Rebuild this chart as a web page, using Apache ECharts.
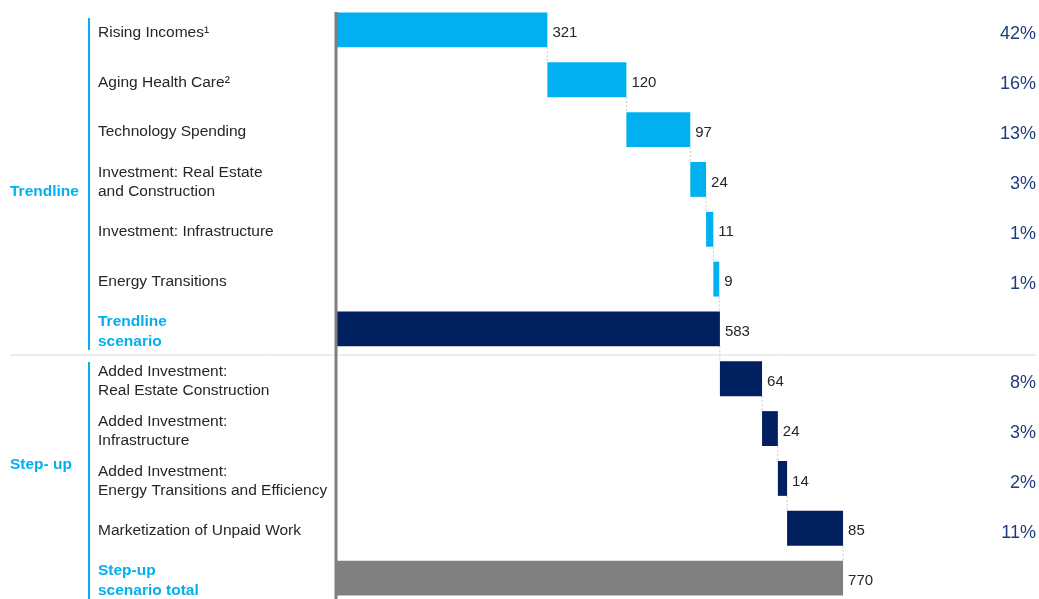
<!DOCTYPE html>
<html>
<head>
<meta charset="utf-8">
<script src="https://cdn.jsdelivr.net/npm/echarts@6/dist/echarts.min.js"></script>
<style>
html,body{margin:0;padding:0;background:#fff;overflow:hidden;width:1039px;height:599px;}
#chart{width:1039px;height:603px;}
</style>
</head>
<body>
<div id="chart"></div>
<script>
const categories = [
  'Rising Incomes¹',
  'Aging Health Care²',
  'Technology Spending',
  'Investment: Real Estate\nand Construction',
  'Investment: Infrastructure',
  'Energy Transitions',
  'Trendline\nscenario',
  'Added Investment:\nReal Estate Construction',
  'Added Investment:\nInfrastructure',
  'Added Investment:\nEnergy Transitions and Efficiency',
  'Marketization of Unpaid Work',
  'Step-up\nscenario total'
];
const values = [321, 120, 97, 24, 11, 9, 583, 64, 24, 14, 85, 770];
const kinds = ['trend','trend','trend','trend','trend','trend','total','step','step','step','step','grand'];
const percents = ['42%','16%','13%','3%','1%','1%','','8%','3%','2%','11%',''];
const groupLabels = ['Trendline', 'Step- up'];

const colors = { trend: '#00b0f0', total: '#002060', step: '#002060', grand: '#808080' };

// waterfall bases
const bases = [];
let running = 0;
values.forEach((v, i) => {
  if (kinds[i] === 'total' || kinds[i] === 'grand') {
    bases.push(0);
    running = v;
  } else {
    bases.push(running);
    running += v;
  }
});
// connector lines: end of each bar (except last)
const connectors = [];
for (let i = 0; i < values.length - 1; i++) {
  connectors.push([bases[i] + values[i], i]);
}

const FONT = 'Liberation Sans, Arial, sans-serif';
const chart = echarts.init(document.getElementById('chart'));
const option = {
  animation: false,
  grid: { left: 336, right: 3, top: 5, bottom: 0 },
  xAxis: {
    type: 'value', min: 0, max: 1063,
    show: false
  },
  yAxis: [{
    type: 'category',
    inverse: true,
    data: categories,
    axisLine: { show: false },
    axisTick: { show: false },
    axisLabel: {
      align: 'left',
      margin: 238,
      fontFamily: FONT,
      fontSize: 15.5,
      color: '#262626',
      lineHeight: 19,
      padding: [5, 0, 0, 0],
      formatter: function (v, i) {
        const k = kinds[i];
        if (k === 'total' || k === 'grand') return '{t|' + v.split('\n').join('}\n{t|') + '}';
        return v;
      },
      rich: {
        t: { fontFamily: FONT, fontSize: 15.5, fontWeight: 'bold', color: '#00b0f0', lineHeight: 20 }
      }
    }
  }, {
    type: 'category',
    inverse: true,
    position: 'right',
    data: categories,
    axisLine: { show: false },
    axisTick: { show: false },
    axisLabel: {
      align: 'right',
      margin: 0,
      fontFamily: FONT,
      fontSize: 18,
      color: '#1f3d7a',
      formatter: function (v, i) { return percents[i] ? '{p|' + percents[i] + '}' : ''; },
      rich: {
        p: { fontFamily: FONT, fontSize: 18, color: '#1f3d7a', padding: [9, 0, 0, 0] }
      }
    }
  }],
  series: [{
    type: 'bar',
    stack: 'w',
    data: bases,
    itemStyle: { color: 'transparent' },
    barCategoryGap: '30%',
    silent: true
  }, {
    type: 'bar',
    stack: 'w',
    data: values.map((v, i) => ({ value: v, itemStyle: { color: colors[kinds[i]] } })),
    barCategoryGap: '30%',
    label: {
      show: true,
      position: 'right',
      distance: 5,
      offset: [0, 3],
      fontFamily: FONT,
      fontSize: 15,
      color: '#262626'
    }
  }, {
    type: 'custom',
    data: connectors,
    silent: true,
    z: 1,
    renderItem: function (params, api) {
      const p = api.coord([api.value(0), api.value(1)]);
      const band = api.size([0, 1])[1];
      return {
        type: 'line',
        shape: { x1: p[0], y1: p[1] + band * 0.35, x2: p[0], y2: p[1] + band * 0.65 },
        style: { stroke: '#c8c8c8', lineWidth: 1, lineDash: [2, 2] }
      };
    }
  }],
  graphic: [
    { type: 'line', shape: { x1: 336, y1: 12, x2: 336, y2: 603 }, style: { stroke: '#7f7f7f', lineWidth: 3 }, z: 10 },
    { type: 'line', shape: { x1: 10, y1: 355, x2: 1036, y2: 355 }, style: { stroke: '#d9d9d9', lineWidth: 1 } },
    { type: 'line', shape: { x1: 89, y1: 18, x2: 89, y2: 350 }, style: { stroke: '#00b0f0', lineWidth: 2 } },
    { type: 'line', shape: { x1: 89, y1: 362, x2: 89, y2: 603 }, style: { stroke: '#00b0f0', lineWidth: 2 } },
    { type: 'text', left: 10, top: 184, style: { text: groupLabels[0], fontFamily: FONT, fontSize: 15.5, fontWeight: 'bold', fill: '#00b0f0' } },
    { type: 'text', left: 10, top: 457, style: { text: groupLabels[1], fontFamily: FONT, fontSize: 15.5, fontWeight: 'bold', fill: '#00b0f0' } }
  ]
};
chart.setOption(option);
</script>
</body>
</html>
